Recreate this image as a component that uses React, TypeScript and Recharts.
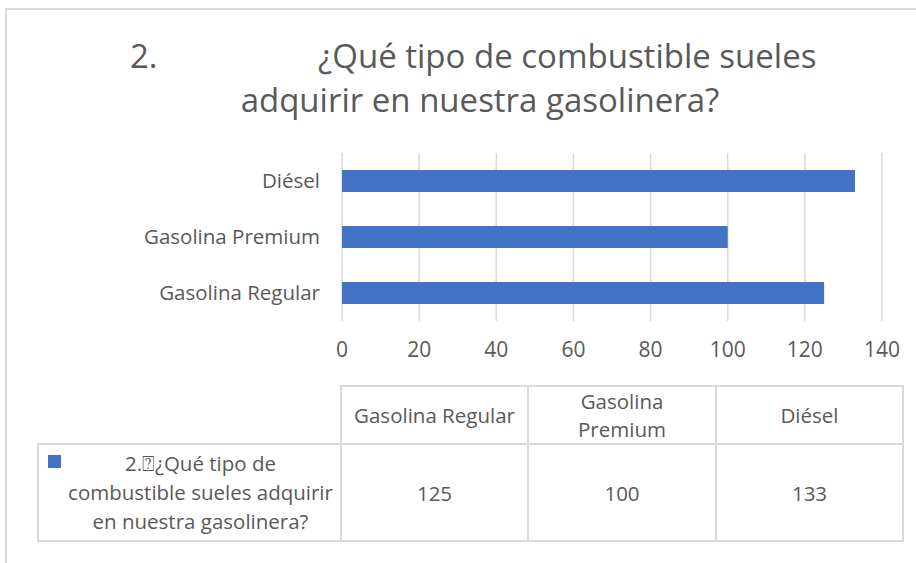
import type { CSSProperties, ReactNode } from "react";
import { BarChart, Bar, XAxis, YAxis, CartesianGrid } from "recharts";

const categories = ["Gasolina Regular", "Gasolina Premium", "Diésel"];
const values = [125, 100, 133];
const xTicks = [0, 20, 40, 60, 80, 100, 120, 140];
const seriesName = "2.\u2370¿Qué tipo de combustible sueles adquirir en nuestra gasolinera?";
// how the series name wraps in the table's legend cell
const legendLines = ["2.\u2370¿Qué tipo de", "combustible sueles adquirir", "en nuestra gasolinera?"];

const chartData = categories.map((name, i) => ({ name, value: values[i] }));

const FONT = "'Open Sans', sans-serif";
const TEXT = "#595959";
const LINE = "#d9d9d9";
const BLUE = "#4472C4";

// table geometry
const colX = [340, 527, 715, 902];
const rowY = [385, 443, 540];
const firstColX = 37;

function Cell({ x, y, w, h, style, children }: { x: number; y: number; w: number; h: number; style?: CSSProperties; children?: ReactNode }) {
  return (
    <div
      style={{
        position: "absolute",
        left: x,
        top: y,
        width: w,
        height: h,
        boxSizing: "border-box",
        border: `2px solid ${LINE}`,
        display: "flex",
        alignItems: "center",
        justifyContent: "center",
        textAlign: "center",
        ...style,
      }}
    >
      {children}
    </div>
  );
}

export default function App() {
  return (
    <div
      style={{
        position: "fixed",
        left: 0,
        top: 0,
        width: 916,
        height: 563,
        background: "#fff",
        fontFamily: FONT,
        color: TEXT,
        overflow: "hidden",
      }}
    >
      {/* outer chart border */}
      <div
        style={{
          position: "absolute",
          left: 5,
          top: 8,
          width: 920,
          height: 560,
          borderLeft: `2px solid ${LINE}`,
          borderTop: `2px solid ${LINE}`,
        }}
      />

      {/* title */}
      <div style={{ position: "absolute", left: 130, top: 34, fontSize: 33, lineHeight: "44px" }}>2.</div>
      <div style={{ position: "absolute", left: 318, top: 34, fontSize: 33, lineHeight: "44px", whiteSpace: "nowrap" }}>
        ¿Qué tipo de combustible sueles
      </div>
      <div
        style={{
          position: "absolute",
          left: 180,
          width: 600,
          top: 78,
          fontSize: 33,
          lineHeight: "44px",
          textAlign: "center",
          whiteSpace: "nowrap",
        }}
      >
        adquirir en nuestra gasolinera?
      </div>

      <div style={{ position: "absolute", left: 0, top: 0 }}>
        <BarChart
          width={916}
          height={380}
          data={chartData}
          layout="vertical"
          margin={{ top: 153, right: 34, bottom: 19, left: 0 }}
          barCategoryGap="60%"
        >
          <CartesianGrid horizontal={false} stroke={LINE} strokeWidth={1.5} />
          <XAxis
            type="number"
            domain={[0, 140]}
            ticks={xTicks}
            axisLine={false}
            tickLine={false}
            tickSize={0}
            tickMargin={21}
            height={40}
            interval={0}
            tick={{ fill: TEXT, fontSize: 21, fontFamily: FONT }}
          />
          <YAxis
            type="category"
            dataKey="name"
            reversed
            width={342}
            axisLine={false}
            tickLine={false}
            tickSize={0}
            tickMargin={22}
            tick={{ fill: TEXT, fontSize: 20.5, fontFamily: FONT }}
          />
          <Bar dataKey="value" name={seriesName} fill={BLUE} barSize={22} isAnimationActive={false} />
        </BarChart>
      </div>

      {/* data table */}
      <div style={{ position: "absolute", left: 0, top: 0, fontSize: 20.5, lineHeight: "28px" }}>
        {categories.map((c, i) => (
          <Cell
            key={c}
            x={colX[i]}
            y={rowY[0]}
            w={colX[i + 1] - colX[i] + 2}
            h={rowY[2 - 1] - rowY[0] + 2}
            style={{ padding: "0 12px" }}
          >
            {c}
          </Cell>
        ))}
        <Cell
          x={firstColX}
          y={rowY[1]}
          w={colX[0] - firstColX + 2}
          h={rowY[2] - rowY[1] + 2}
          style={{ padding: "0 0 0 22px", lineHeight: "29px" }}
        >
          <span
            style={{
              position: "absolute",
              left: 9,
              top: 10,
              width: 13,
              height: 13,
              background: BLUE,
            }}
          />
          <div title={seriesName}>
            {legendLines.map((l) => (
              <div key={l} style={{ whiteSpace: "nowrap" }}>
                {l}
              </div>
            ))}
          </div>
        </Cell>
        {values.map((v, i) => (
          <Cell key={i} x={colX[i]} y={rowY[1]} w={colX[i + 1] - colX[i] + 2} h={rowY[2] - rowY[1] + 2}>
            {v}
          </Cell>
        ))}
      </div>
    </div>
  );
}
